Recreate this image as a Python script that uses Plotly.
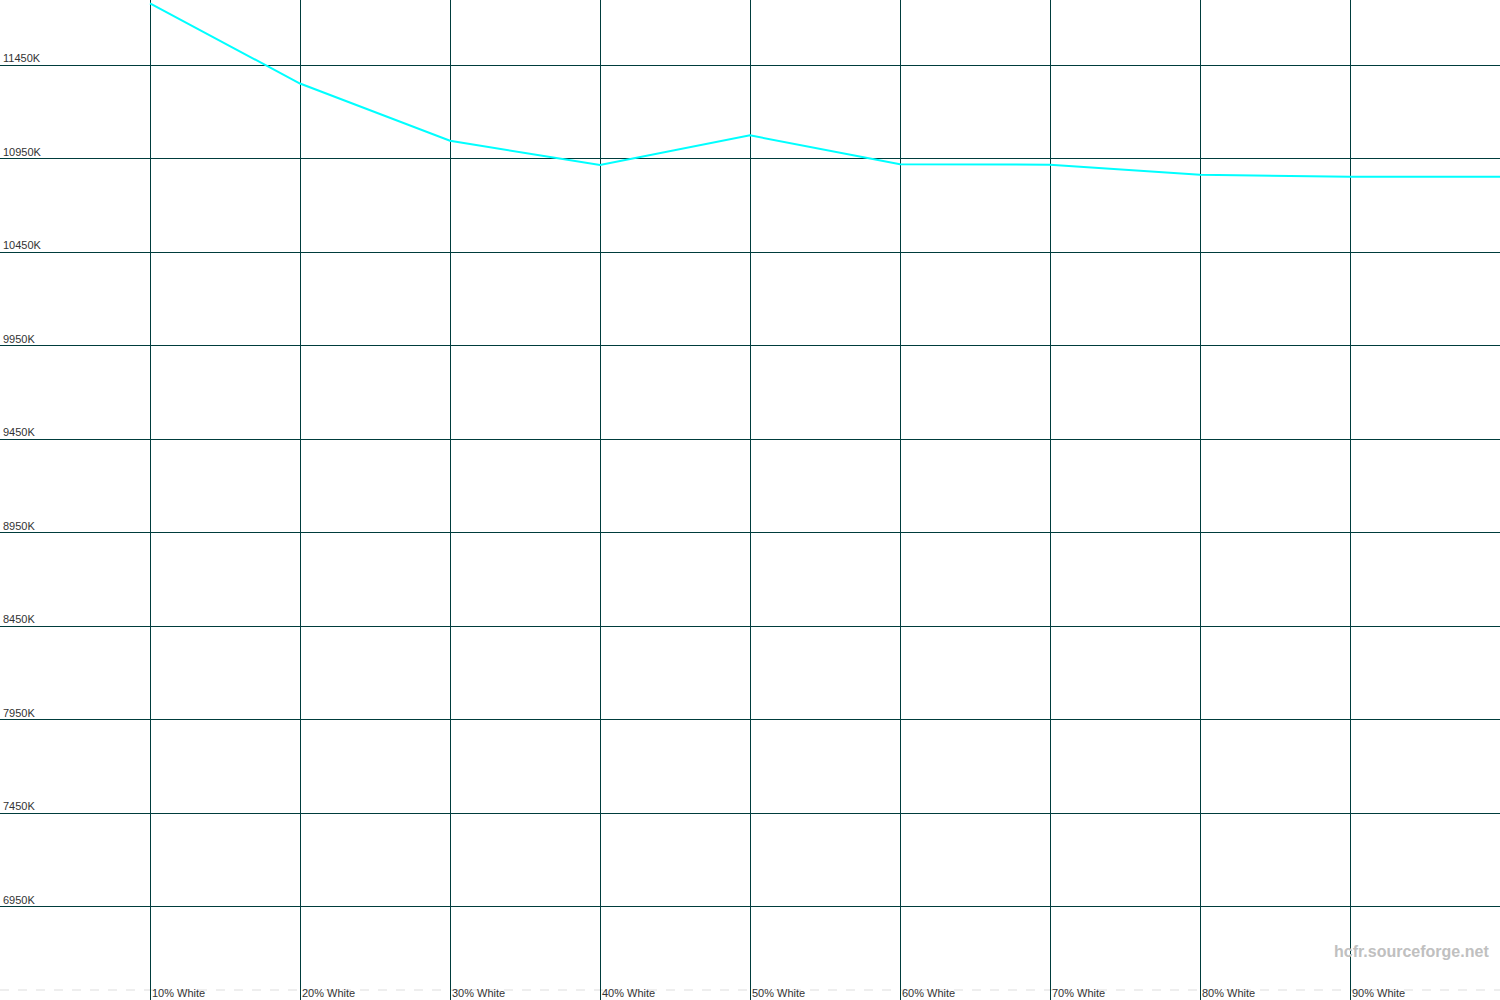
import plotly.graph_objects as go

# Data
x_levels = [10, 20, 30, 40, 50, 60, 70, 80, 90, 100]
color_temp_k = [11782, 11353, 11047, 10917, 11076, 10921, 10919, 10865, 10855, 10855]
y_ticks = [6950, 7450, 7950, 8450, 8950, 9450, 9950, 10450, 10950, 11450]
y_tick_labels = [f"{v}K" for v in y_ticks]
x_ticks = [0, 10, 20, 30, 40, 50, 60, 70, 80, 90, 100]
x_label_vals = [10, 20, 30, 40, 50, 60, 70, 80, 90]
x_label_texts = [f"{v}% White" for v in x_label_vals]
watermark = "hcfr.sourceforge.net"

grid_color = "#003c3c"
font_family = "Liberation Sans, Arial, sans-serif"

fig = go.Figure()
fig.add_trace(go.Scatter(
    x=x_levels, y=color_temp_k, mode="lines",
    line=dict(color="#00ffff", width=2),
    hoverinfo="skip", showlegend=False,
))

annotations = []
for v, t in zip(y_ticks, y_tick_labels):
    annotations.append(dict(
        x=0, xref="paper", y=v, yref="y", text=t, showarrow=False,
        xanchor="left", yanchor="bottom", xshift=1, yshift=-1,
        font=dict(family=font_family, size=11, color="#333333"),
    ))
for v, t in zip(x_label_vals, x_label_texts):
    annotations.append(dict(
        x=v, xref="x", y=0, yref="paper", text=t, showarrow=False,
        xanchor="left", yanchor="bottom", xshift=0, yshift=-1,
        font=dict(family=font_family, size=11, color="#333333"),
    ))
annotations.append(dict(
    x=1, xref="paper", y=0, yref="paper", text=watermark, showarrow=False,
    xanchor="right", yanchor="bottom", xshift=-9, yshift=38,
    font=dict(family=font_family, size=16, color="#c0c0c0", weight="bold"),
))

fig.update_layout(
    width=1500, height=1000,
    margin=dict(l=0, r=0, t=0, b=0),
    paper_bgcolor="white", plot_bgcolor="white",
    xaxis=dict(range=[0, 100], tickvals=x_ticks, showticklabels=False,
               showgrid=True, gridcolor=grid_color, gridwidth=1,
               zeroline=False, showline=False, fixedrange=True),
    yaxis=dict(range=[6450, 11800], tickvals=y_ticks, showticklabels=False,
               showgrid=True, gridcolor=grid_color, gridwidth=1,
               zeroline=False, showline=False, fixedrange=True),
    annotations=annotations,
    shapes=[dict(type="line", xref="paper", yref="paper", x0=0, x1=1,
                 y0=0.01, y1=0.01, line=dict(color="#dddddd", width=1, dash="dash"),
                 layer="below")],
)

fig.write_html(
    "out.html",
    config={"displayModeBar": False, "staticPlot": True},
    post_script="document.body.style.margin='0';document.body.style.overflow='hidden';",
)
